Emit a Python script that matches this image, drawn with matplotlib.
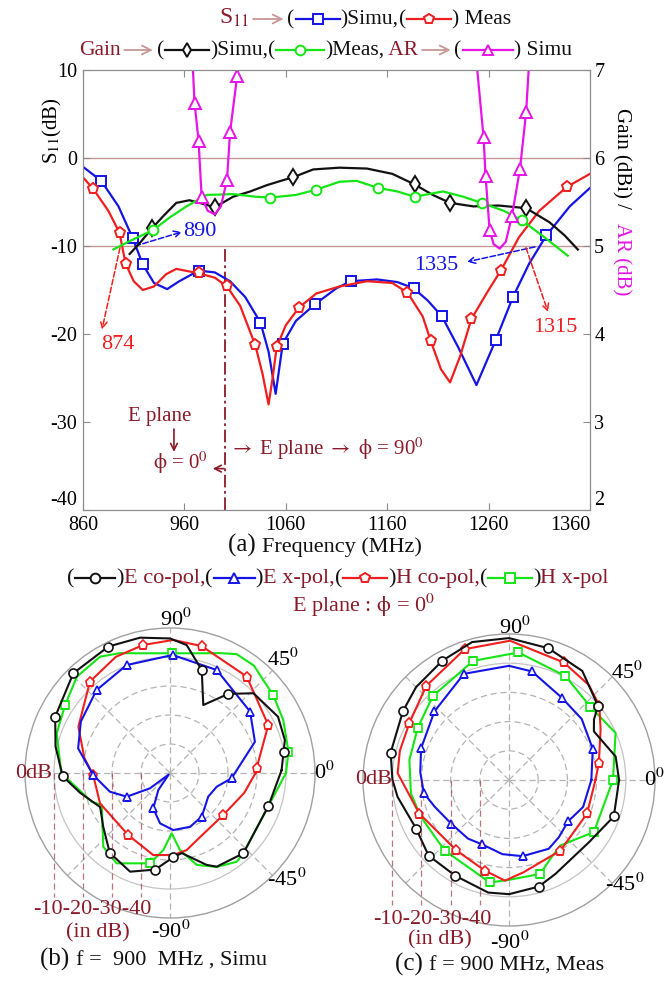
import matplotlib
matplotlib.use('Agg')
import matplotlib.pyplot as plt
from matplotlib.lines import Line2D
from matplotlib.patches import FancyArrowPatch
import numpy as np

plt.rcParams['font.family'] = ['Liberation Serif', 'DejaVu Serif']
plt.rcParams['mathtext.fontset'] = 'stix'
plt.rcParams['axes.unicode_minus'] = False

W, H = 665, 983

BLUE = '#1414e6'
RED = '#f01e1e'
GREEN = '#14e614'
MAGENTA = '#e614e6'
BLACK = '#111111'
DARKRED = '#8b1a28'
ROSY = '#c89696'
GRAY = '#8c8c8c'
PHI = r'$\mathrm{\phi}$'

# ---------------- (a) S11 / gain / AR vs frequency ----------------
freq_ticks = [860, 960, 1060, 1160, 1260, 1360]
s11_ticks = [-40, -30, -20, -10, 0, 10]
gain_ticks = [2, 3, 4, 5, 6, 7]

s11_sim_f = [860, 878, 895, 909, 919, 930, 943, 955, 974, 990, 1005, 1020, 1035, 1043, 1050,
             1057, 1070, 1089, 1110, 1124, 1150, 1170, 1186, 1200, 1214, 1230, 1248, 1267,
             1284, 1300, 1317, 1340, 1360]
s11_sim_db = [-1.0, -2.6, -5.5, -9.1, -12.1, -14.2, -14.9, -14.0, -12.8, -13.0, -14.0, -15.8,
              -18.7, -22.0, -26.8, -21.1, -18.5, -16.6, -14.8, -14.0, -13.8, -14.1, -14.8,
              -16.2, -18.0, -21.5, -25.8, -20.7, -15.8, -12.0, -8.8, -5.5, -3.4]
s11_sim_mk = [1, 3, 4, 8, 12, 15, 17, 19, 22, 24, 27, 28, 30]

s11_meas_f = [860, 870, 885, 896, 902, 910, 919, 930, 942, 952, 974, 990, 1002, 1015, 1030,
              1037, 1043, 1047, 1051, 1060, 1073, 1090, 1113, 1140, 1165, 1180, 1195, 1203,
              1213, 1222, 1232, 1243, 1260, 1272, 1290, 1310, 1337, 1360]
s11_meas_db = [-2.2, -3.5, -6.0, -8.5, -12.0, -14.0, -15.0, -14.6, -13.2, -12.6, -13.1, -13.6,
               -14.6, -16.8, -21.3, -24.5, -28.0, -25.0, -21.5, -19.0, -17.0, -15.4, -14.6,
               -14.0, -14.2, -15.3, -18.0, -20.8, -24.0, -25.5, -22.5, -18.3, -15.0, -12.8,
               -9.0, -6.0, -3.3, -1.8]
s11_meas_mk = [1, 3, 4, 10, 12, 14, 18, 20, 25, 27, 31, 33, 36]

gain_sim_f = [906, 915, 928, 940, 952, 965, 978, 990, 1008, 1025, 1041, 1055, 1067, 1087, 1113,
              1140, 1165, 1187, 1205, 1222, 1245, 1270, 1297, 1320, 1335, 1348]
gain_sim = [4.91, 5.02, 5.20, 5.35, 5.49, 5.52, 5.48, 5.44, 5.56, 5.62, 5.69, 5.74, 5.78, 5.87,
            5.89, 5.88, 5.82, 5.70, 5.58, 5.49, 5.45, 5.46, 5.43, 5.27, 5.12, 4.96]
gain_sim_mk = [2, 7, 12, 17, 19, 22]

gain_meas_f = [890, 905, 929, 945, 962, 982, 1008, 1030, 1044, 1070, 1090, 1113, 1130, 1151,
               1170, 1187, 1215, 1235, 1253, 1275, 1293, 1315, 1338]
gain_meas = [4.96, 5.05, 5.18, 5.32, 5.45, 5.58, 5.59, 5.56, 5.55, 5.58, 5.64, 5.73, 5.74, 5.66,
             5.62, 5.56, 5.62, 5.56, 5.49, 5.40, 5.29, 5.10, 4.89]
gain_meas_mk = [2, 8, 10, 13, 15, 18, 20]

ar1_f = [968, 970, 974, 977, 983, 990, 996, 1002, 1005, 1012, 1014]
ar1 = [7.1, 6.63, 6.19, 5.56, 5.40, 5.36, 5.45, 5.75, 6.29, 6.93, 7.1]
ar2_f = [1248, 1255, 1257, 1261, 1265, 1271, 1277, 1283, 1291, 1297, 1300]
ar2 = [7.1, 6.24, 5.80, 5.18, 5.02, 4.97, 5.05, 5.34, 5.88, 6.52, 7.1]
ar_mk = [1, 2, 3, 7, 8, 9]

ref_levels = [0, -10]
plane_split_f = 1000

# ---------------- (b), (c) radiation patterns ----------------
b_eco_ang = [1.5, 10.4, 16, 27.5, 43.7, 53.6, 63.9, 72.9, 82.6, 90, 102.5, 116, 134.1, 153.9,
             167, 181.8, 192.5, 206, 219, 233, 248, 261.2, 272.2, 278.3, 291.7, 296.5, 312.4,
             341.5, 361.5]
b_eco_db = [-11.5, -10.2, -8.8, -8.0, -10.2, -16.1, -23.9, -12.8, -5.5, -3.6, -2.2, -1.5, -2.1,
            -5.9, -9.5, -13.0, -18.3, -23.2, -20.4, -15.5, -13.3, -16.3, -20.9, -22.1, -15.9,
            -13.9, -12.5, -14.2, -11.5]
b_eco_mk = [1, 5, 7, 11, 12, 13, 15, 19, 21, 22, 26, 27]

b_exp_ang = [-4.9, 20.2, 37.5, 65.6, 88.7, 111.9, 131.5, 150, 165, 181.5, 197.3, 208.7, 217.4,
             230, 235.5, 244.7, 258.8, 273.3, 290.4, 306, 328.3, 343.7, 355.1]
b_exp_db = [-28.7, -18.8, -15.2, -11.0, -9.3, -9.9, -11.8, -14.5, -17.2, -23.5, -28.3, -33.0,
            -41.3, -49.3, -42.9, -36.5, -32.3, -30.3, -30.2, -31.4, -34.5, -33.2, -28.7]
b_exp_mk = [0, 2, 3, 4, 5, 6, 9, 11, 15, 19]

b_hco_ang = [0, 3.1, 26, 51.5, 76, 88.6, 101.8, 115, 131.2, 153.2, 170, 181.5, 203.4, 236,
             258.5, 272.3, 282.2, 292, 321.8, 345, 360]
b_hco_db = [-20.5, -20.1, -12.3, -7.5, -4.9, -4.1, -4.9, -5.8, -8.1, -14.6, -20.0, -23.5, -23.7,
            -24.2, -21.1, -21.7, -22.8, -25.1, -26.6, -23.5, -20.5]
b_hco_mk = [1, 2, 3, 4, 6, 8, 11, 13, 18]

b_hxp_ang = [0, 10.2, 25, 37, 44.9, 52, 60.7, 67.3, 78, 89, 102, 112.7, 121, 134, 147, 160.7,
             180, 200.1, 205.1, 227.9, 239.4, 257.5, 265, 271.6, 277.4, 286.2, 296.5, 307,
             312.4, 341.5, 360]
b_hxp_db = [-10.0, -8.5, -6.9, -5.4, -4.6, -3.0, -3.0, -5.2, -7.8, -8.7, -7.8, -5.2, -3.2, -3.8,
            -6.9, -8.6, -12.5, -21.2, -24.0, -15.7, -13.8, -18.1, -23.3, -29.2, -23.2, -17.0,
            -13.8, -11.7, -12.5, -14.2, -10.0]
b_hxp_mk = [1, 3, 9, 14, 21]

c_eco_ang = [0, 12.4, 29.8, 35.4, 39.9, 56.1, 73.4, 90, 105, 119.2, 135, 147, 167, 180, 188.6,
             207.6, 223.2, 240.7, 259.5, 270, 285.5, 296.2, 322.1, 340.8, 360]
c_eco_db = [-12.3, -12.6, -16.5, -14.3, -10.3, -5.0, -2.9, -1.4, -1.1, -3.2, -5.0, -6.7, -8.4,
            -10.1, -11.4, -14.1, -12.2, -12.4, -10.8, -10.9, -12.1, -14.1, -15.3, -12.0, -12.3]
c_eco_mk = [4, 6, 9, 11, 12, 15, 16, 17, 20, 23]

c_exp_ang = [0, 20.4, 40, 57.4, 78.1, 90, 113, 137.4, 160.2, 175, 188.9, 200, 217.1, 235, 247,
             265, 280.1, 300, 311, 324.9, 340, 360]
c_exp_db = [-21.8, -19.4, -17.5, -16.5, -12.0, -10.9, -10.5, -15.3, -18.0, -19.5, -20.5, -23.0,
            -25.2, -25.5, -26.1, -24.5, -23.5, -22.8, -24.0, -25.3, -23.0, -21.8]
c_exp_mk = [1, 3, 4, 6, 7, 8, 10, 12, 14, 16, 19]

c_hco_ang = [0, 10.6, 28.8, 39.5, 50, 65, 89.6, 108.7, 131.4, 150.2, 165, 176.5, 200.5, 233.2,
             255, 267.7, 278.9, 306.1, 336.8, 360]
c_hco_db = [-20.4, -18.7, -14.2, -9.9, -7.5, -5.6, -2.3, -2.7, -7.1, -10.7, -11.3, -11.8, -17.2,
            -19.9, -17.9, -15.5, -18.0, -20.1, -20.9, -20.4]
c_hco_mk = [1, 3, 5, 7, 8, 9, 12, 13, 14, 17, 18]

c_hxp_ang = [0, 23.8, 42, 61.5, 85.8, 106.8, 132.3, 150.3, 168.6, 187.8, 202.8, 227.6, 259.4,
             270, 288.4, 297.6, 308.1, 328.5, 360]
c_hxp_db = [-14.4, -10.1, -12.5, -9.5, -6.2, -7.4, -11.2, -14.0, -15.2, -16.1, -17.3, -17.3,
            -14.3, -15.8, -16.1, -19.5, -21.5, -15.9, -14.4]
c_hxp_mk = [0, 2, 3, 4, 5, 6, 7, 11, 12, 14, 17]

ring_levels = [-10, -20, -30, -40]
r_min = -50

fig = plt.figure(figsize=(W / 100, H / 100), dpi=100)
renderer = fig.canvas.get_renderer()


def fx(x):
    return x / W


def fy(y):
    return 1 - y / H


def draw_row(items, x, y):
    # y is the visual centre line (pixels from top); text baseline sits 5 px lower
    for it in items:
        if it[0] == 't':
            _, s, c, fs = it
            t = fig.text(fx(x), fy(y + 5), s, color=c, fontsize=fs, ha='left', va='baseline')
            x += t.get_window_extent(renderer).width
        elif it[0] == 'k':
            _, c, m, w = it
            fig.add_artist(Line2D([fx(x + 1), fx(x + w - 1)], [fy(y), fy(y)],
                                  transform=fig.transFigure, color=c, lw=1.6))
            fig.add_artist(Line2D([fx(x + w / 2)], [fy(y)], transform=fig.transFigure,
                                  marker=m, ms=7, mfc='white', mec=c, mew=1.4, ls='none'))
            x += w
        elif it[0] == 'a':
            _, c, w = it
            fig.add_artist(FancyArrowPatch((fx(x + 1), fy(y)), (fx(x + w - 1), fy(y)),
                                           transform=fig.transFigure, arrowstyle='->',
                                           mutation_scale=16, color=c, lw=1.3))
            x += w
    return x


ax = fig.add_axes([fx(83), fy(510), 507 / W, 440 / H])
ax.set_xlim(860, 1360)
ax.set_ylim(-40, 10)
ax.set_xticks(freq_ticks)
ax.set_yticks(s11_ticks)
ax.tick_params(direction='in', top=True, length=5, color=GRAY, labelsize=14.5, pad=4)
for lv in ref_levels:
    ax.axhline(lv, color=ROSY, lw=1.0, zorder=1)
ax.vlines(plane_split_f, -40, -10, color=DARKRED, lw=1.3, ls=(0, (7, 2, 1.5, 2)), zorder=1)

mk = dict(mfc='white', mew=1.4, lw=1.6)
ax.plot(s11_sim_f, s11_sim_db, color=BLUE, marker='s', ms=7, markevery=s11_sim_mk, mec=BLUE, **mk)
ax.plot(s11_meas_f, s11_meas_db, color=RED, marker='p', ms=8, markevery=s11_meas_mk, mec=RED, **mk)

ax2 = ax.twinx()
ax2.set_ylim(2, 7)
ax2.set_yticks(gain_ticks)
ax2.tick_params(direction='in', length=5, color=GRAY, labelsize=14.5, pad=3)
ax2.plot(gain_sim_f, gain_sim, color=BLACK, marker='d', ms=8, markevery=gain_sim_mk, mec=BLACK, **mk)
ax2.plot(gain_meas_f, gain_meas, color=GREEN, marker='o', ms=7, markevery=gain_meas_mk, mec=GREEN, **mk)
ax2.plot(ar1_f, ar1, color=MAGENTA, marker='^', ms=8, markevery=ar_mk, mec=MAGENTA, **mk)
ax2.plot(ar2_f, ar2, color=MAGENTA, marker='^', ms=8, markevery=ar_mk, mec=MAGENTA, **mk)
for a in (ax, ax2):
    for s in a.spines.values():
        s.set_color(GRAY)

# corner labels sit a little inside, as in the original
ax.get_xticklabels()[-1].set_horizontalalignment('right')
ax.get_xticklabels()[-1].set_x(1366)
ax.get_yticklabels()[0].set_verticalalignment('bottom')
ax2.get_yticklabels()[0].set_verticalalignment('bottom')

arr = dict(lw=1.1, ls='--', arrowstyle='->', mutation_scale=12, shrinkA=0, shrinkB=0)
ax.annotate('', xy=(878.7, -19.5), xytext=(896.5, -10.2), arrowprops=dict(color=RED, **arr))
ax.text(894.5, -21.2, '874', color=RED, fontsize=16, ha='center', va='center')
ax.annotate('', xy=(957.6, -8.4), xytext=(911.3, -10.0), arrowprops=dict(color=BLUE, **arr))
ax.text(958.6, -8.4, '890', color=BLUE, fontsize=16, ha='left', va='center')
ax.annotate('', xy=(1238.7, -11.8), xytext=(1305.8, -10.1), arrowprops=dict(color=BLUE, **arr))
ax.text(1229.8, -12.2, '1335', color=BLUE, fontsize=16, ha='right', va='center')
ax.annotate('', xy=(1318.6, -17.5), xytext=(1296.9, -10.2), arrowprops=dict(color=RED, **arr))
ax.text(1303.8, -19.3, '1315', color=RED, fontsize=16, ha='left', va='center')

ax.text(936, -29.4, 'E plane', color=DARKRED, fontsize=15, ha='center', va='center')
ax.annotate('', xy=(949.7, -33.4), xytext=(949.7, -30.8),
            arrowprops=dict(arrowstyle='->', color=DARKRED, lw=1.2, mutation_scale=12,
                            shrinkA=0, shrinkB=0))
ax.text(929, -34.6, PHI + ' = 0$^0$', color=DARKRED, fontsize=15, ha='left', va='center')
ax.annotate('', xy=(988, -35.3), xytext=(999, -35.3),
            arrowprops=dict(arrowstyle='->', color=DARKRED, lw=1.2, mutation_scale=12,
                            shrinkA=0, shrinkB=0))
ax.text(1004, -33.0, r'$\rightarrow$ E plane $\rightarrow$ ' + PHI + ' = 90$^0$', color=DARKRED,
        fontsize=15, ha='left', va='center')

fig.text(fx(52), fy(131), r'S$_{11}$(dB)', rotation=90, ha='center', va='center', fontsize=15)
fig.text(fx(621), fy(158), 'Gain (dBi) /', rotation=-90, ha='center', va='center', fontsize=15)
fig.text(fx(621), fy(259), 'AR (dB)', rotation=-90, ha='center', va='center', fontsize=15,
         color=MAGENTA)

draw_row([('t', '(a) ', BLACK, 18), ('t', 'Frequency (MHz)', BLACK, 16)], 228, 547)

draw_row([('t', r'S$_{11}$', DARKRED, 17), ('a', ROSY, 38), ('t', '(', BLACK, 15.5),
          ('k', BLUE, 's', 46), ('t', ')Simu,', BLACK, 15.5), ('t', '(', BLACK, 15.5),
          ('k', RED, 'p', 46), ('t', ') Meas', BLACK, 15.5)], 219, 19)
draw_row([('t', 'Gain', DARKRED, 15.5), ('a', ROSY, 36), ('t', '(', BLACK, 15.5),
          ('k', BLACK, 'd', 46), ('t', ')Simu,', BLACK, 15.5), ('t', '(', BLACK, 15.5),
          ('k', GREEN, 'o', 50), ('t', ')Meas,', BLACK, 15.5), ('t', ' AR', DARKRED, 15.5),
          ('a', ROSY, 36), ('t', '(', BLACK, 15.5), ('k', MAGENTA, '^', 52),
          ('t', ') Simu', BLACK, 15.5)], 79, 50)

# ---------------- polar panels ----------------
draw_row([('t', '(', BLACK, 16), ('k', BLACK, 'o', 42), ('t', ')', BLACK, 16),
          ('t', 'E co-pol,', DARKRED, 16), ('t', '(', BLACK, 16), ('k', BLUE, '^', 43),
          ('t', ')', BLACK, 16), ('t', 'E x-pol,', DARKRED, 16), ('t', '(', BLACK, 16),
          ('k', RED, 'p', 46), ('t', ')', BLACK, 16), ('t', 'H co-pol,', DARKRED, 16),
          ('t', '(', BLACK, 16), ('k', GREEN, 's', 46), ('t', ')', BLACK, 16),
          ('t', 'H x-pol', DARKRED, 16)], 67, 578)
fig.text(fx(292), fy(607 + 5), 'E plane : ' + PHI + ' = 0$^0$', color=DARKRED, fontsize=16,
         ha='left', va='baseline')


def polar_panel(rect, series, angle_labels, db_xy, ring_xy, indb_xy, line_end):
    axp = fig.add_axes(rect, projection='polar')
    axp.set_ylim(r_min, 0)
    axp.set_yticks(ring_levels)
    axp.set_yticklabels([])
    axp.set_xticks(np.deg2rad(np.arange(0, 360, 45)))
    axp.set_xticklabels([])
    axp.grid(True, color='#b4b4b4', ls=(0, (5, 3)), lw=0.9)
    for lv, gl in zip(ring_levels, axp.yaxis.get_gridlines()):
        if lv == -10:
            gl.set_linestyle('-')
            gl.set_color('#c4c4c4')
    axp.spines['polar'].set_color('#a0a0a0')
    axp.spines['polar'].set_linewidth(1.0)
    for ang, db, mkv, col, m, ms in series:
        axp.plot(np.deg2rad(ang), db, color=col, lw=1.5, marker=m, ms=ms, markevery=mkv,
                 mfc='white', mec=col, mew=1.2)
    for s, x, y, ha in angle_labels:
        axp.text(x, y, s, transform=axp.transAxes, fontsize=16, ha=ha, va='center')
    axp.text(db_xy[0], db_xy[1], '0dB', transform=axp.transAxes, fontsize=16, ha='right',
             va='center', color=DARKRED)
    for lv in ring_levels:
        xa = 0.5 - 0.5 * (lv - r_min) / (0 - r_min)
        axp.plot([xa, xa], [0.5, line_end], transform=axp.transAxes, color=DARKRED,
                 lw=0.9, ls=(0, (5, 3)), alpha=0.6, clip_on=False)
    axp.text(ring_xy[0], ring_xy[1], '-10-20-30-40', transform=axp.transAxes, fontsize=16,
             ha='center', va='center', color=DARKRED)
    axp.text(indb_xy[0], indb_xy[1], '(in dB)', transform=axp.transAxes, fontsize=16,
             ha='center', va='center', color=DARKRED)
    return axp


polar_panel([fx(25), fy(918), 290 / W, 290 / H],
            [(b_hxp_ang, b_hxp_db, b_hxp_mk, GREEN, 's', 5.5),
             (b_hco_ang, b_hco_db, b_hco_mk, RED, 'p', 6.5),
             (b_exp_ang, b_exp_db, b_exp_mk, BLUE, '^', 6),
             (b_eco_ang, b_eco_db, b_eco_mk, BLACK, 'o', 6.5)],
            [('90$^0$', 0.521, 1.03, 'center'), ('45$^0$', 0.89, 0.89, 'center'),
             ('0$^0$', 1.031, 0.5, 'center'), ('-45$^0$', 0.903, 0.131, 'center'),
             ('-90$^0$', 0.503, -0.048, 'center')],
            (0.093, 0.5), (0.231, 0.028), (0.25, -0.052), 0.072)

polar_panel([fx(363), fy(926), 292 / W, 292 / H],
            [(c_hxp_ang, c_hxp_db, c_hxp_mk, GREEN, 's', 5.5),
             (c_hco_ang, c_hco_db, c_hco_mk, RED, 'p', 6.5),
             (c_exp_ang, c_exp_db, c_exp_mk, BLUE, '^', 6),
             (c_eco_ang, c_eco_db, c_eco_mk, BLACK, 'o', 6.5)],
            [('90$^0$', 0.521, 1.021, 'center'), ('45$^0$', 0.904, 0.866, 'center'),
             ('0$^0$', 1.033, 0.5, 'right'), ('-45$^0$', 0.897, 0.14, 'center'),
             ('-90$^0$', 0.503, -0.058, 'center')],
            (0.099, 0.5), (0.236, 0.021), (0.264, -0.048), 0.072)

draw_row([('t', '(b) ', BLACK, 18), ('t', 'f =  900  MHz , Simu', BLACK, 16)], 40, 961)
draw_row([('t', '(c) ', BLACK, 18), ('t', 'f = 900 MHz, Meas', BLACK, 16)], 395, 966)

fig.savefig('out.png', dpi=100)
